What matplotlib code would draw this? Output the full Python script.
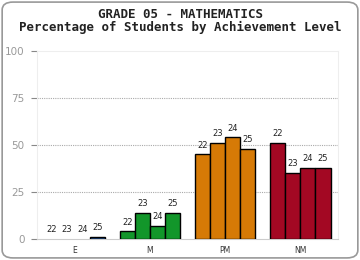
import numpy as np
import matplotlib.pyplot as plt
from matplotlib.patches import FancyBboxPatch

levels = ['E', 'M', 'PM', 'NM']
years = ['22', '23', '24', '25']
colors = ['#1d4f96', '#12962a', '#d67a06', '#a30823']

pct_e = [0, 0, 0, 1]
pct_m = [4, 14, 7, 14]
pct_pm = [45, 51, 54, 48]
pct_nm = [51, 35, 38, 38]
values = [pct_e, pct_m, pct_pm, pct_nm]

fig = plt.figure(figsize=(3.6, 2.6), dpi=100)
fig.patches.append(FancyBboxPatch((0.006, 0.008), 0.988, 0.984,
                                  boxstyle='round,pad=0,rounding_size=0.03',
                                  transform=fig.transFigure, fc='white',
                                  ec='#999999', lw=1.2, zorder=-1))

ax = fig.add_axes([0.103, 0.081, 0.836, 0.723])
ax.patch.set_alpha(0)
w = 0.2
for i, vals in enumerate(values):
    for j, v in enumerate(vals):
        x = i + (j - 1.5) * w
        if v > 0:
            ax.bar(x, v, width=w, color=colors[i], edgecolor='black', lw=1, zorder=3)
        ax.text(x, v + 2.5, years[j], ha='center', va='bottom', fontsize=6, color='#222222')

ax.set_xlim(-0.5, 3.5)
ax.set_ylim(0, 100)
ax.set_yticks([0, 25, 50, 75, 100])
ax.set_xticks(range(4))
ax.set_xticklabels(levels, fontsize=5.5, color='#333333')
ax.tick_params(axis='x', length=0, pad=5)
ax.tick_params(axis='y', labelsize=7.5, labelcolor='#999999', color='#888888', length=4, pad=5)
for y in [25, 50, 75]:
    ax.axhline(y, color='#aaaaaa', lw=0.8, ls=(0, (1, 1)), zorder=1)
for side in ['top', 'right', 'left']:
    ax.spines[side].set_color('#eeeeee')
ax.spines['bottom'].set_color('#cccccc')

fig.text(0.5, 0.945, 'GRADE 05 - MATHEMATICS', ha='center', va='center',
         family='DejaVu Sans Mono', weight='bold', fontsize=9, color='#222222')
fig.text(0.5, 0.895, 'Percentage of Students by Achievement Level', ha='center', va='center',
         family='DejaVu Sans Mono', weight='bold', fontsize=9, color='#222222')

fig.savefig('out.png', dpi=100)
